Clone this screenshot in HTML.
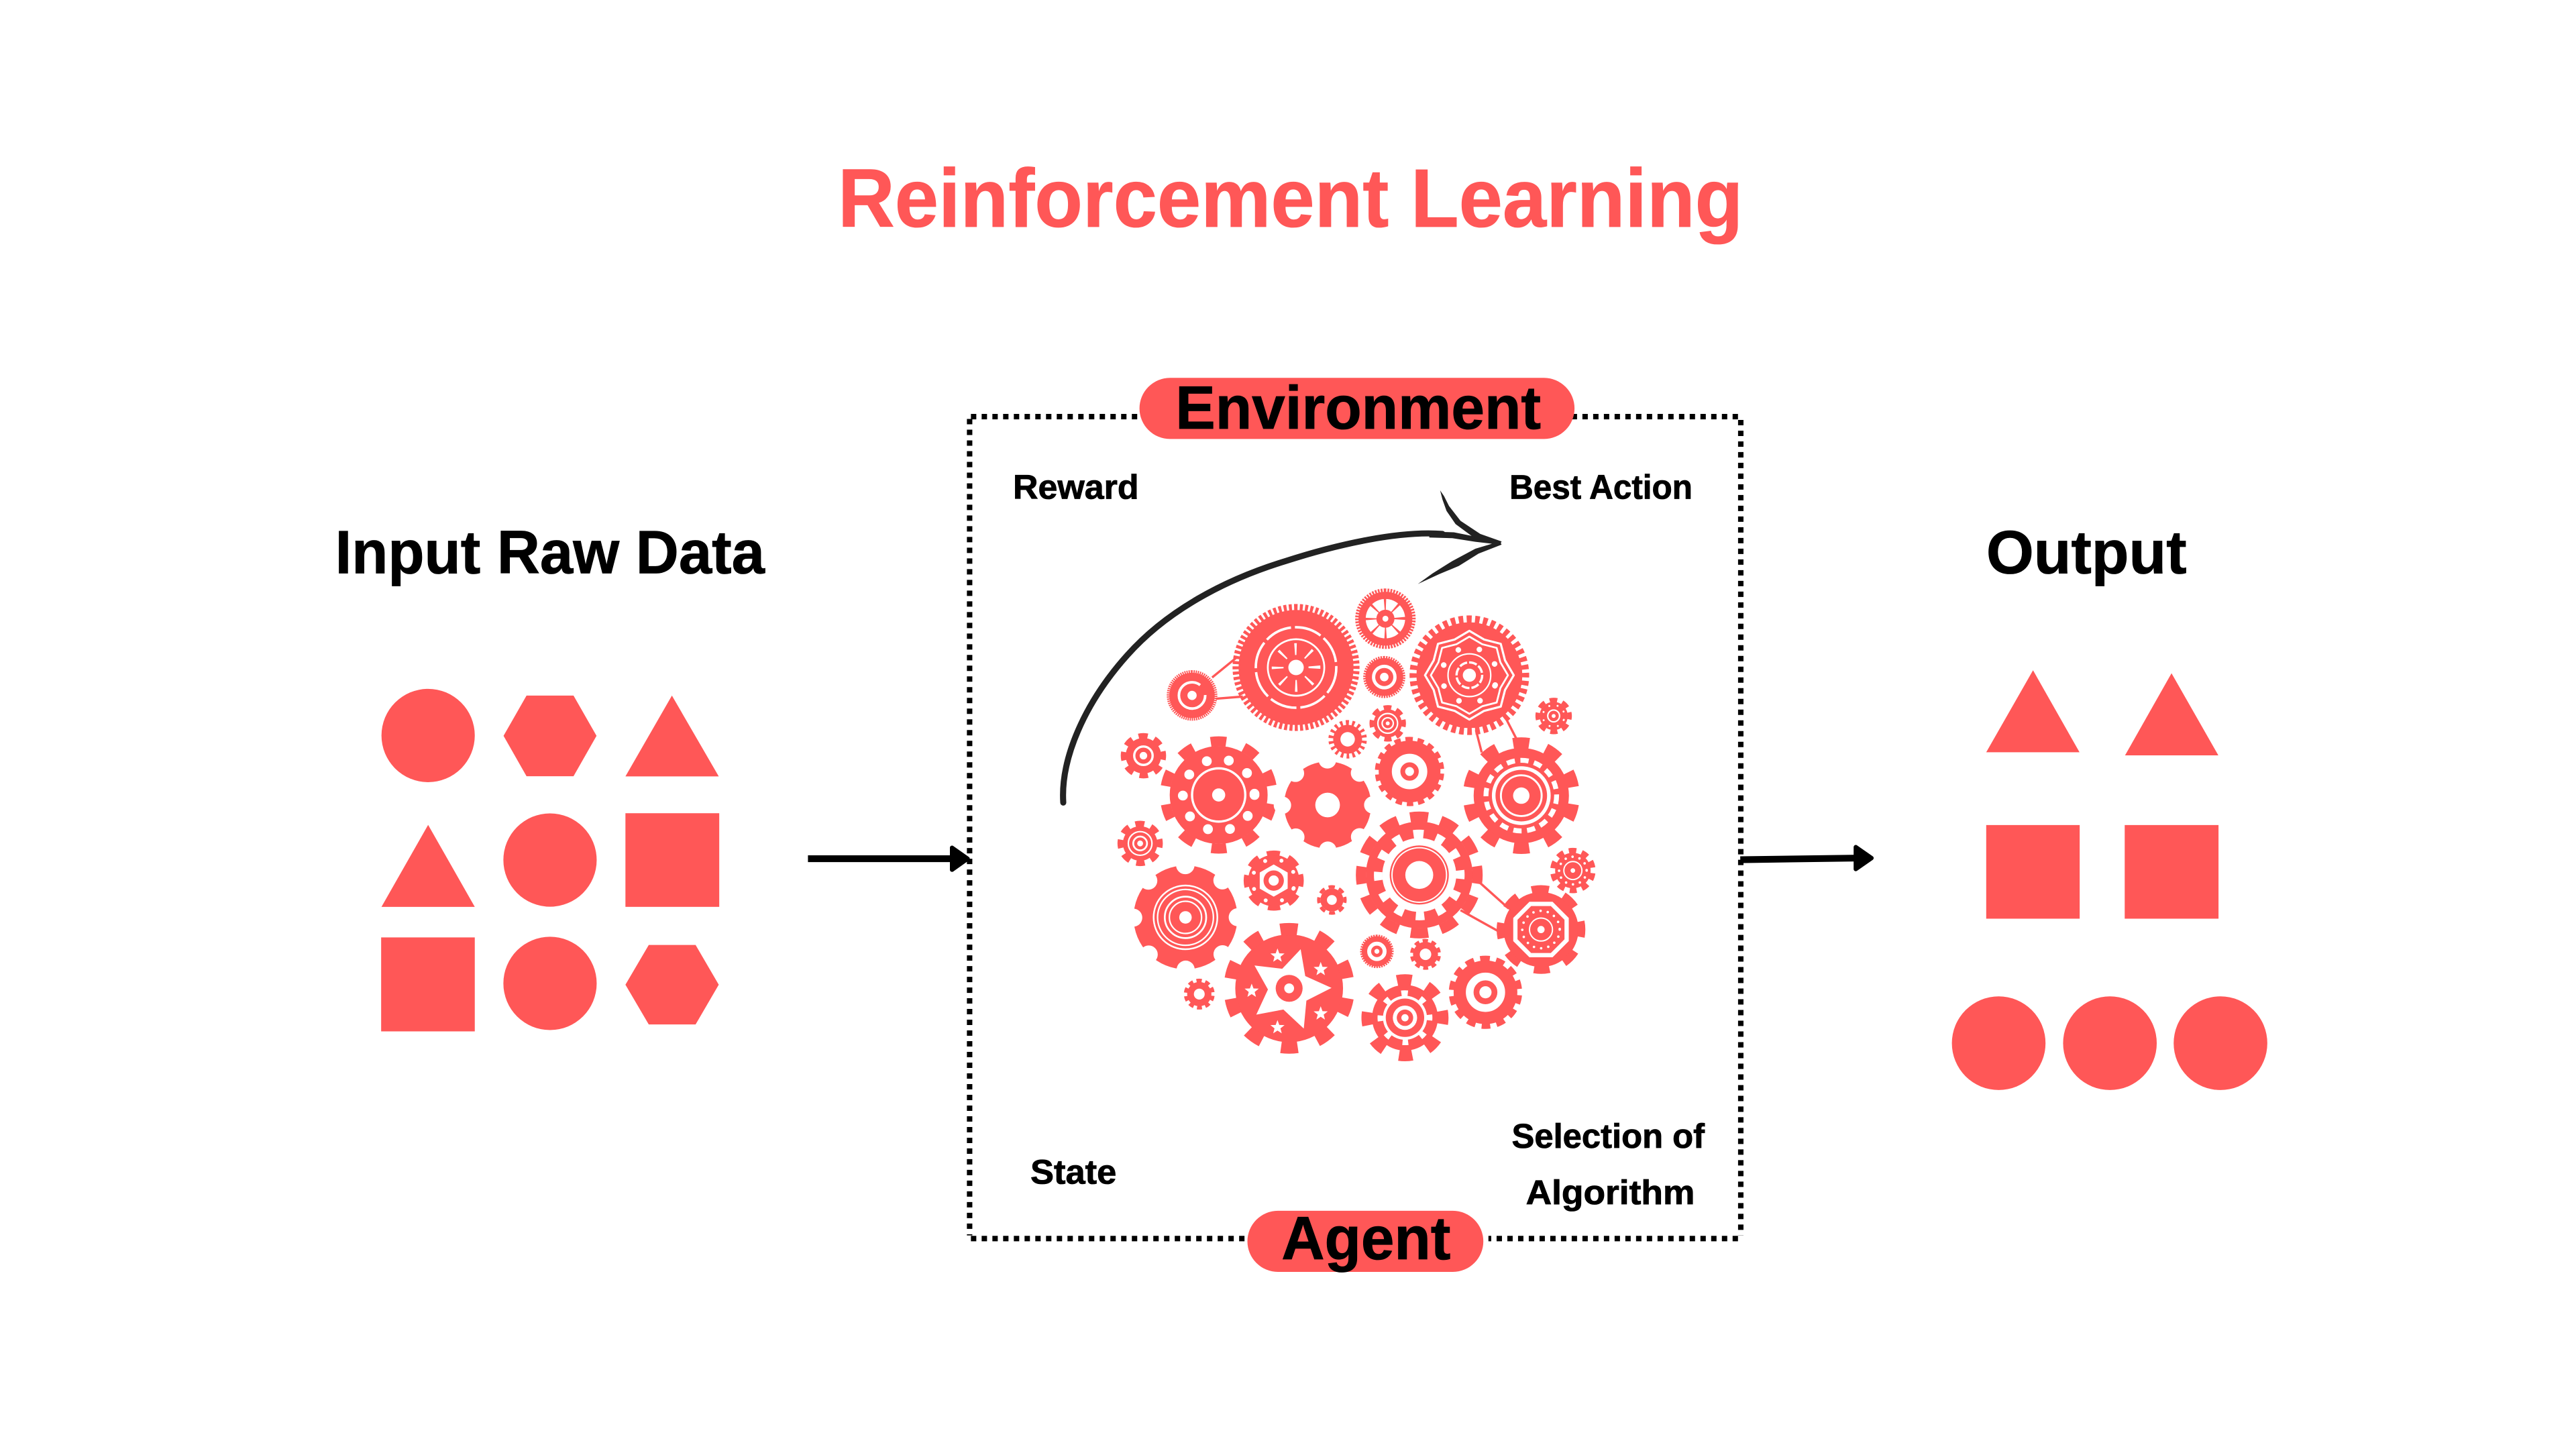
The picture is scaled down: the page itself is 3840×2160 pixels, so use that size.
<!DOCTYPE html>
<html lang="en">
<head>
<meta charset="utf-8">
<title>Reinforcement Learning</title>
<style>
html,body{margin:0;padding:0;background:#fff;width:3840px;height:2160px;overflow:hidden}
svg{display:block}
text{font-family:"Liberation Sans",sans-serif;font-weight:700;fill:#000;stroke:#000;stroke-width:.35}
.r{fill:#ff5757}
.w{fill:#fff}
.t{fill:none;stroke:#ff5757;stroke-dasharray:1 1;stroke-dashoffset:.5;transform:rotate(-90deg)}
.tw{fill:none;stroke:#fff;stroke-dasharray:1 1;stroke-dashoffset:.5;transform:rotate(-90deg)}
.n{fill:none;stroke:#fff;stroke-dasharray:0 1;stroke-linecap:round;transform:rotate(-90deg)}
.d{fill:none;stroke:#fff;stroke-dasharray:0 1;stroke-linecap:round}
.o{fill:none;stroke:#fff}
.c{stroke:#ff5757;stroke-width:1.4;fill:none}
.b{stroke:#000;stroke-width:3.3;stroke-dasharray:3.27 3.26;fill:none}
</style>
</head>
<body>
<svg width="3840" height="2160" viewBox="0 0 1568 882" xmlns="http://www.w3.org/2000/svg">
<defs>
<polygon id="wv" points="0,-27 9,-21.7 19.1,-19.1 21.7,-9 27,0 21.7,9 19.1,19.1 9,21.7 0,27 -9,21.7 -19.1,19.1 -21.7,9 -27,0 -21.7,-9 -19.1,-19.1 -9,-21.7" fill="none" stroke="#fff" stroke-width="1.3" stroke-linejoin="round"/>
<polygon id="st" points="0,-4.5 1.1,-1.5 4.3,-1.4 1.8,.6 2.6,3.6 0,1.9 -2.6,3.6 -1.8,.6 -4.3,-1.4 -1.1,-1.5" fill="#fff"/>
</defs>
<rect width="1568" height="882" fill="#fff"/>

<text x="510" y="138" font-size="50.5" textLength="551" lengthAdjust="spacingAndGlyphs" style="fill:#ff5757;stroke:#ff5757">Reinforcement Learning</text>
<text x="204" y="349" font-size="37.3" textLength="261.5" lengthAdjust="spacingAndGlyphs">Input Raw Data</text>
<text x="1209" y="349" font-size="37.3" textLength="122" lengthAdjust="spacingAndGlyphs">Output</text>

<!-- left shapes -->
<circle class="r" cx="260.6" cy="447.7" r="28.4"/>
<polygon class="r" points="306.5,447.9 320.5,423.4 349.1,423.4 363.1,447.9 349.1,472.5 320.5,472.5"/>
<polygon class="r" points="409,423.4 437.5,472.6 380.7,472.6"/>
<polygon class="r" points="260.6,502.1 289,552 232.2,552"/>
<circle class="r" cx="334.8" cy="523.5" r="28.4"/>
<rect class="r" x="380.7" y="495" width="57.1" height="57"/>
<rect class="r" x="232" y="570.6" width="57" height="57.2"/>
<circle class="r" cx="334.8" cy="598.6" r="28.4"/>
<polygon class="r" points="380.7,599.4 394.9,575.2 423.4,575.2 437.5,599.4 423.4,623.6 394.9,623.6"/>

<!-- right shapes -->
<polygon class="r" points="1237.5,408 1265.8,457.9 1209,457.9"/>
<polygon class="r" points="1321.8,409.8 1350.3,459.8 1293.5,459.8"/>
<rect class="r" x="1209" y="502.2" width="56.9" height="57"/>
<rect class="r" x="1293.3" y="502.2" width="57.1" height="57"/>
<circle class="r" cx="1216.6" cy="635" r="28.5"/>
<circle class="r" cx="1284.3" cy="635" r="28.5"/>
<circle class="r" cx="1351.6" cy="635" r="28.5"/>

<!-- dotted frame -->
<line class="b" x1="590.2" y1="255" x2="590.2" y2="752"/>
<line class="b" x1="1059.6" y1="255.6" x2="1059.6" y2="752"/>
<line class="b" x1="591" y1="253.6" x2="1061" y2="253.6"/>
<line class="b" x1="591" y1="753.9" x2="1061" y2="753.9"/>
<rect x="902" y="745" width="4" height="15" fill="#fff"/>

<!-- flow arrows -->
<line x1="491.8" y1="522.7" x2="582" y2="522.7" stroke="#000" stroke-width="4.1"/>
<polygon points="579.5,516 589,522.7 579.5,529.4" fill="#000" stroke="#000" stroke-width="2.6" stroke-linejoin="round"/>
<line x1="1059.3" y1="523.3" x2="1131" y2="522.3" stroke="#000" stroke-width="4.1"/>
<polygon points="1129.6,515.6 1139.2,522.3 1129.6,529" fill="#000" stroke="#000" stroke-width="2.6" stroke-linejoin="round"/>

<!-- pills -->
<rect class="r" x="693.6" y="230" width="264.8" height="37.2" rx="18.6"/>
<text x="715.5" y="261" font-size="37.3" textLength="222.5" lengthAdjust="spacingAndGlyphs">Environment</text>
<rect class="r" x="759.3" y="737" width="143.6" height="37.2" rx="18.6"/>
<text x="780" y="766.5" font-size="37.3" textLength="103" lengthAdjust="spacingAndGlyphs">Agent</text>

<!-- labels -->
<text x="616.6" y="303.6" font-size="21" textLength="76.6" lengthAdjust="spacingAndGlyphs">Reward</text>
<text x="918.8" y="303.6" font-size="21" textLength="111.4" lengthAdjust="spacingAndGlyphs">Best Action</text>
<text x="627.2" y="720.6" font-size="21" textLength="52.4" lengthAdjust="spacingAndGlyphs">State</text>
<text x="920.2" y="698.6" font-size="21" textLength="117.4" lengthAdjust="spacingAndGlyphs">Selection of</text>
<text x="928.8" y="733" font-size="21" textLength="102.8" lengthAdjust="spacingAndGlyphs">Algorithm</text>

<!-- sketched arrow -->
<path d="M647.2,488.5 C645.5,462 660,428 686.2,398.8 C710,372 745,353 782.3,341.6 C815,331 852,323 878,325" fill="none" stroke="#222" stroke-width="3.7" stroke-linecap="round"/>
<polygon points="870,323.6 885,324 900,327 914,329.6 913,331.5 898,329.8 884,327.6 870,327.2" fill="#222"/>
<polygon points="876.6,298.5 879,302 882,308 889,317 901,325 914,329.6 912,332 899,328.6 886,319 880.5,311 878,304" fill="#222"/>
<polygon points="863,355.5 872,349 884,341.5 898,334 913,329.5 914,331.5 900,337 888,344.5 876,349.5" fill="#222"/>

<!-- connectors -->
<line class="c" x1="737.8" y1="412.4" x2="753" y2="400"/>
<line class="c" x1="740.1" y1="425.3" x2="756.5" y2="424"/>
<line class="c" x1="898.4" y1="444.4" x2="901.9" y2="458"/>
<line class="c" x1="917.1" y1="438.2" x2="924.1" y2="451.8"/>
<line class="c" x1="896" y1="533" x2="918.3" y2="553"/>
<line class="c" x1="889" y1="554" x2="912.4" y2="567"/>

<!-- A big sawtooth -->
<g transform="translate(788.9 406.3)">
<circle class="r" r="35"/><circle class="t" r="36.7" stroke-width="3.9" pathLength="144" style="stroke-dasharray:1.15 .85;stroke-dashoffset:.57"/>
<circle class="o" r="24.5" stroke-width="1.5" pathLength="16" style="stroke-dasharray:1.75 .25"/>
<circle class="o" r="17.2" stroke-width="1.1"/>
<circle class="o" r="11.2" stroke-width="7.2" pathLength="8" style="stroke-dasharray:.14 .86;stroke-dashoffset:.07"/>
<circle class="w" r="4.7"/>
</g>
<!-- B -->
<g transform="translate(843.3 376.6)">
<circle class="r" r="16.4"/><circle class="t" r="17.3" stroke-width="2.2" pathLength="120" style="stroke-dasharray:1.2 .8;stroke-dashoffset:.6"/>
<circle class="w" r="12"/>
<circle r="8.5" fill="none" stroke="#ff5757" stroke-width="7.5" pathLength="8" style="stroke-dasharray:.16 .84;stroke-dashoffset:.08"/>
<circle class="r" r="5.5"/><circle class="w" r="1.8"/>
</g>
<!-- C -->
<g transform="translate(725.6 423.3)">
<circle class="r" r="13.8"/><circle class="t" r="14.5" stroke-width="1.8" pathLength="140" style="stroke-dasharray:1.2 .8;stroke-dashoffset:.6"/>
<circle class="o" r="8" stroke-width="1.6" pathLength="10" style="stroke-dasharray:8.6 1.4"/>
<circle class="w" r="2.8"/>
</g>
<!-- D -->
<g transform="translate(842.6 412.1)">
<circle class="r" r="11.5"/><circle class="t" r="12" stroke-width="1.6" pathLength="100" style="stroke-dasharray:1.2 .8;stroke-dashoffset:.6"/>
<circle class="o" r="6.5" stroke-width="2"/><circle class="w" r="2.6"/>
</g>
<!-- E -->
<g transform="translate(894.4 411)">
<circle class="r" r="32.2"/><circle class="t" r="34.2" stroke-width="4.4" pathLength="88" style="stroke-dasharray:1.15 .85;stroke-dashoffset:.57"/>
<use href="#wv"/><use href="#wv" transform="scale(.87)"/>
<circle class="d" r="16.8" stroke-width="3.4" pathLength="8" transform="rotate(22.5)"/>
<circle class="o" r="13" stroke-width=".9"/>
<circle class="o" r="7.8" stroke-width="1.4" pathLength="16" style="stroke-dasharray:1.6 .4"/>
<circle class="w" r="4"/>
</g>
<!-- F -->
<g transform="translate(945.7 435.8)">
<circle class="r" r="8.6"/><circle class="t" r="9.8" stroke-width="2.6" pathLength="16" style="stroke-dasharray:1.15 .85;stroke-dashoffset:.57"/>
<circle class="d" r="6.6" stroke-width="1.2" pathLength="8" transform="rotate(22.5)"/>
<circle class="o" r="3.6" stroke-width=".9"/><circle class="w" r="1.2"/>
</g>
<!-- G -->
<g transform="translate(844.7 440.3)">
<circle class="r" r="8.6"/><circle class="t" r="9.8" stroke-width="2.6" pathLength="16" style="stroke-dasharray:1.15 .85;stroke-dashoffset:.57"/>
<circle class="o" r="6" stroke-width=".9"/><circle class="o" r="3.4" stroke-width=".9"/><circle class="w" r="1.2"/>
</g>
<!-- H -->
<g transform="translate(820.3 450)">
<circle class="r" r="8.8"/><circle class="t" r="10" stroke-width="3.4" pathLength="36" style="stroke-dasharray:.9 1.1;stroke-dashoffset:.45"/>
<circle class="w" r="4.4"/>
</g>
<!-- I -->
<g transform="translate(741.8 483.9)">
<circle class="r" r="29.8"/><circle class="t" r="32.7" stroke-width="6" pathLength="20" style="stroke-dasharray:.9 1.1;stroke-dashoffset:.45"/>
<circle class="d" r="21.8" stroke-width="6" pathLength="10"/>
<circle class="o" r="16.2" stroke-width="1.4"/><circle class="w" r="4"/>
</g>
<!-- J -->
<g transform="translate(696 460)">
<circle class="r" r="10.8"/><circle class="t" r="12.1" stroke-width="3.4" pathLength="16" style="stroke-dasharray:1.1 .9;stroke-dashoffset:.55"/>
<circle class="o" r="5.6" stroke-width="1.4"/><circle class="w" r="2.3"/>
</g>
<!-- K -->
<g transform="translate(808.1 490)">
<circle class="r" r="26.5"/><circle class="n" r="27.5" stroke-width="10.6" pathLength="8"/>
<circle class="w" r="7.5"/>
</g>
<!-- L -->
<g transform="translate(858 469.6)">
<circle class="r" r="18.8"/><circle class="t" r="19.8" stroke-width="2.6" pathLength="36" style="stroke-dasharray:1.15 .85;stroke-dashoffset:.57"/>
<circle class="o" r="8.2" stroke-width="5.2"/><circle class="w" r="2.7"/>
</g>
<!-- M -->
<g transform="translate(926 484.3)">
<circle class="r" r="29"/><circle class="t" r="32" stroke-width="7" pathLength="20" style="stroke-dasharray:.95 1.05;stroke-dashoffset:.47"/>
<circle class="o" r="21.5" stroke-width="3" pathLength="32" style="stroke-dasharray:1.2 .8"/>
<circle class="o" r="16.8" stroke-width="2.2"/>
<circle class="o" r="12.4" stroke-width="1.2"/>
<circle class="w" r="5"/>
</g>
<!-- N -->
<g transform="translate(694 513.4)">
<circle class="r" r="10.5"/><circle class="t" r="12" stroke-width="3.6" pathLength="16" style="stroke-dasharray:1.1 .9;stroke-dashoffset:.55"/>
<circle class="o" r="7.2" stroke-width=".9"/><circle class="o" r="4.2" stroke-width="1.1"/><circle class="w" r="1.8"/>
</g>
<!-- O -->
<g transform="translate(957.4 529.9)">
<circle class="r" r="10.8"/><circle class="t" r="12.2" stroke-width="3.2" pathLength="20" style="stroke-dasharray:1.1 .9;stroke-dashoffset:.55"/>
<circle class="d" r="8.4" stroke-width="1.5" pathLength="12"/>
<circle class="o" r="5.5" stroke-width=".8"/><circle class="w" r="1.4"/>
</g>
<!-- P -->
<g transform="translate(863.9 532.6)">
<circle class="r" r="32.5"/><circle class="t" r="35.5" stroke-width="6.2" pathLength="24" style="stroke-dasharray:1.15 .85;stroke-dashoffset:.57"/>
<circle class="w" r="22.5"/><circle class="tw" r="25" stroke-width="5.2" pathLength="24" style="stroke-dasharray:.8 1.2;stroke-dashoffset:.4"/>
<circle class="r" r="18"/><circle class="o" r="16.6" stroke-width=".8"/>
<circle class="w" r="8.5"/>
</g>
<!-- Q -->
<g transform="translate(775.3 536)">
<circle class="r" r="15.6"/><circle class="t" r="16.8" stroke-width="3" pathLength="16" style="stroke-dasharray:1.15 .85;stroke-dashoffset:.57"/>
<circle class="d" r="13" stroke-width="2.4" pathLength="8" transform="rotate(22.5)"/>
<polygon class="w" points="0,-9.8 8.5,-4.9 8.5,4.9 0,9.8 -8.5,4.9 -8.5,-4.9"/>
<circle class="r" r="6.2"/><circle class="w" r="3.1"/>
</g>
<!-- R -->
<g transform="translate(810.7 547.8)">
<circle class="r" r="7"/><circle class="t" r="8" stroke-width="2" pathLength="16" style="stroke-dasharray:1.15 .85;stroke-dashoffset:.57"/>
<circle class="w" r="3"/>
</g>
<!-- S -->
<g transform="translate(721.6 558.4)">
<circle class="r" r="31.6"/><circle class="n" r="31.8" stroke-width="11" pathLength="8" transform="rotate(-4)"/>
<circle class="o" r="19.4" stroke-width="1"/><circle class="o" r="17" stroke-width=".9"/>
<circle class="o" r="12.6" stroke-width="1.1"/><circle class="o" r="9.8" stroke-width=".9"/>
<circle class="w" r="3.8"/>
</g>
<!-- T -->
<g transform="translate(938 565.8)">
<circle class="r" r="22.8"/><circle class="t" r="24.7" stroke-width="4.6" pathLength="16" style="stroke-dasharray:1 1;stroke-dashoffset:.5"/>
<polygon fill="none" stroke="#fff" stroke-width="2.6" points="-6.5,-15.6 6.5,-15.6 15.6,-6.5 15.6,6.5 6.5,15.6 -6.5,15.6 -15.6,6.5 -15.6,-6.5"/>
<circle class="d" r="11.4" stroke-width="1.5" pathLength="16"/>
<circle class="o" r="7" stroke-width=".8"/><circle class="w" r="2.2"/>
</g>
<!-- U -->
<g transform="translate(784.7 601.6)">
<circle class="r" r="32.8"/><circle class="t" r="36" stroke-width="7.6" pathLength="20" style="stroke-dasharray:.9 1.1;stroke-dashoffset:.45"/>
</g>
<polygon class="w" points="791.7,577.8 794.5,594.1 810.5,601.3 795.2,609.1 793.6,626.1 781.2,614.5 764.7,617.6 771.8,602.3 763.6,587.7 780.5,589.7"/>
<circle class="r" cx="784.7" cy="601.6" r="8.2"/><circle class="w" cx="784.7" cy="601.6" r="3"/>
<use href="#st" x="777.6" y="581.8"/><use href="#st" x="803.9" y="590"/><use href="#st" x="761.9" y="603.2"/><use href="#st" x="803.9" y="617"/><use href="#st" x="777.6" y="625.4"/>
<!-- V -->
<g transform="translate(838.1 579.1)">
<circle class="r" r="9.2"/><circle class="t" r="9.6" stroke-width="1.2" pathLength="80" style="stroke-dasharray:1.2 .8;stroke-dashoffset:.6"/>
<circle class="o" r="4.7" stroke-width="2.4"/><circle class="w" r="1.5"/>
</g>
<!-- W -->
<g transform="translate(867.7 580.9)">
<circle class="r" r="7.6"/><circle class="t" r="8.4" stroke-width="2" pathLength="20" style="stroke-dasharray:1.15 .85;stroke-dashoffset:.57"/>
<circle class="w" r="3.5"/>
</g>
<!-- X -->
<g transform="translate(730 605.1)">
<circle class="r" r="7.4"/><circle class="t" r="8.3" stroke-width="2.2" pathLength="20" style="stroke-dasharray:1.15 .85;stroke-dashoffset:.57"/>
<circle class="w" r="3.3"/>
</g>
<!-- Y -->
<g transform="translate(855.2 619.5)">
<circle class="r" r="20"/><circle class="t" r="23" stroke-width="7" pathLength="16" style="stroke-dasharray:.9 1.1;stroke-dashoffset:.45"/>
<circle class="w" r="13.4"/><circle class="tw" r="15" stroke-width="3.4" pathLength="16" style="stroke-dasharray:.6 1.4;stroke-dashoffset:.3"/>
<circle class="r" r="11.7"/><circle class="w" r="7.4"/><circle class="r" r="5"/><circle class="w" r="2.2"/>
</g>
<!-- Z -->
<g transform="translate(904.2 604)">
<circle class="r" r="19.4"/><circle class="t" r="20.6" stroke-width="3.4" pathLength="28" style="stroke-dasharray:1.15 .85;stroke-dashoffset:.57"/>
<circle class="o" r="9.6" stroke-width="4.7"/><circle class="w" r="3.7"/>
</g>
</svg>
</body>
</html>
